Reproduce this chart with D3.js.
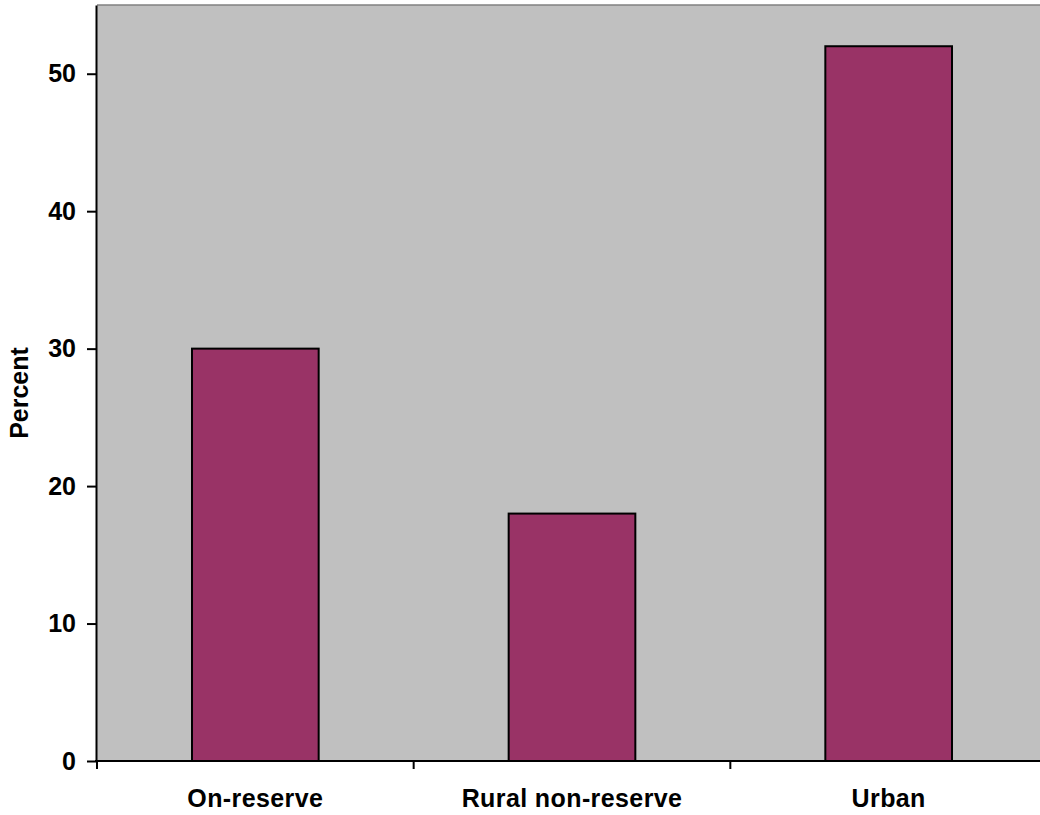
<!DOCTYPE html>
<html>
<head>
<meta charset="utf-8">
<script src="https://cdn.jsdelivr.net/npm/d3@7"></script>
<style>
  html, body { margin: 0; padding: 0; background: #ffffff; }
  svg { display: block; }
  text { font-family: "Liberation Sans", Arial, sans-serif; font-weight: bold; fill: #000; }
</style>
</head>
<body>
<svg id="chart" width="1040" height="815"></svg>
<script>
// Share of population by area of residence
const categories = ["On-reserve", "Rural non-reserve", "Urban"];
const values = [30, 18, 52];
const yTicks = [0, 10, 20, 30, 40, 50];
const yTitle = "Percent";

const W = 1040, H = 815;
const plot = { left: 97, top: 5, bottom: 761, right: 1047 };

const svg = d3.select("#chart");

const x = d3.scaleBand()
  .domain(categories)
  .range([plot.left, plot.right])
  .paddingInner(0.6)
  .paddingOuter(0.3);

// category boundaries for the tick marks
const xCat = d3.scaleBand()
  .domain(categories)
  .range([plot.left, plot.right])
  .padding(0);

const y = d3.scaleLinear()
  .domain([0, 55])
  .range([plot.bottom, plot.top]);

// plot background
svg.append("rect")
  .attr("x", plot.left)
  .attr("y", plot.top)
  .attr("width", plot.right - plot.left)
  .attr("height", plot.bottom - plot.top)
  .attr("fill", "#c0c0c0");

// top border
svg.append("line")
  .attr("x1", plot.left).attr("x2", plot.right)
  .attr("y1", plot.top).attr("y2", plot.top)
  .attr("stroke", "#808080")
  .attr("stroke-width", 1.5);

// bars
svg.append("g")
  .selectAll("rect")
  .data(values)
  .join("rect")
  .attr("x", (d, i) => x(categories[i]))
  .attr("y", d => y(d))
  .attr("width", x.bandwidth())
  .attr("height", d => y(0) - y(d))
  .attr("fill", "#993366")
  .attr("stroke", "#000")
  .attr("stroke-width", 2);

// y axis
const yAxis = svg.append("g")
  .attr("transform", `translate(${plot.left - 1},0)`)
  .call(d3.axisLeft(y).tickValues(yTicks).tickSize(9).tickPadding(11).tickSizeOuter(0));
yAxis.select(".domain").attr("stroke", "#000").attr("stroke-width", 2);
yAxis.selectAll(".tick line").attr("stroke", "#000").attr("stroke-width", 2);
yAxis.selectAll(".tick text")
  .style("font-size", "25px")
  .style("font-family", "'Liberation Sans', Arial, sans-serif")
  .style("font-weight", "bold");

// x axis line
svg.append("line")
  .attr("x1", plot.left - 2).attr("x2", plot.right)
  .attr("y1", plot.bottom).attr("y2", plot.bottom)
  .attr("stroke", "#000")
  .attr("stroke-width", 2);

// category separator ticks
const boundaries = categories.map(c => xCat(c)).concat([xCat(categories[categories.length - 1]) + xCat.bandwidth()]);
svg.append("g")
  .selectAll("line")
  .data(boundaries)
  .join("line")
  .attr("x1", d => d).attr("x2", d => d)
  .attr("y1", plot.bottom).attr("y2", plot.bottom + 8)
  .attr("stroke", "#000")
  .attr("stroke-width", 2);

// category labels
const xAxis = svg.append("g")
  .attr("transform", `translate(0,${plot.bottom})`)
  .call(d3.axisBottom(xCat).tickSize(0).tickPadding(28));
xAxis.select(".domain").remove();
xAxis.selectAll(".tick text")
  .style("font-size", "25px")
  .style("font-family", "'Liberation Sans', Arial, sans-serif")
  .style("font-weight", "bold")
  .style("letter-spacing", "0.4px");

// y title
svg.append("text")
  .attr("transform", "translate(28,393) rotate(-90)")
  .attr("text-anchor", "middle")
  .style("font-size", "25px")
  .text(yTitle);
</script>
</body>
</html>
